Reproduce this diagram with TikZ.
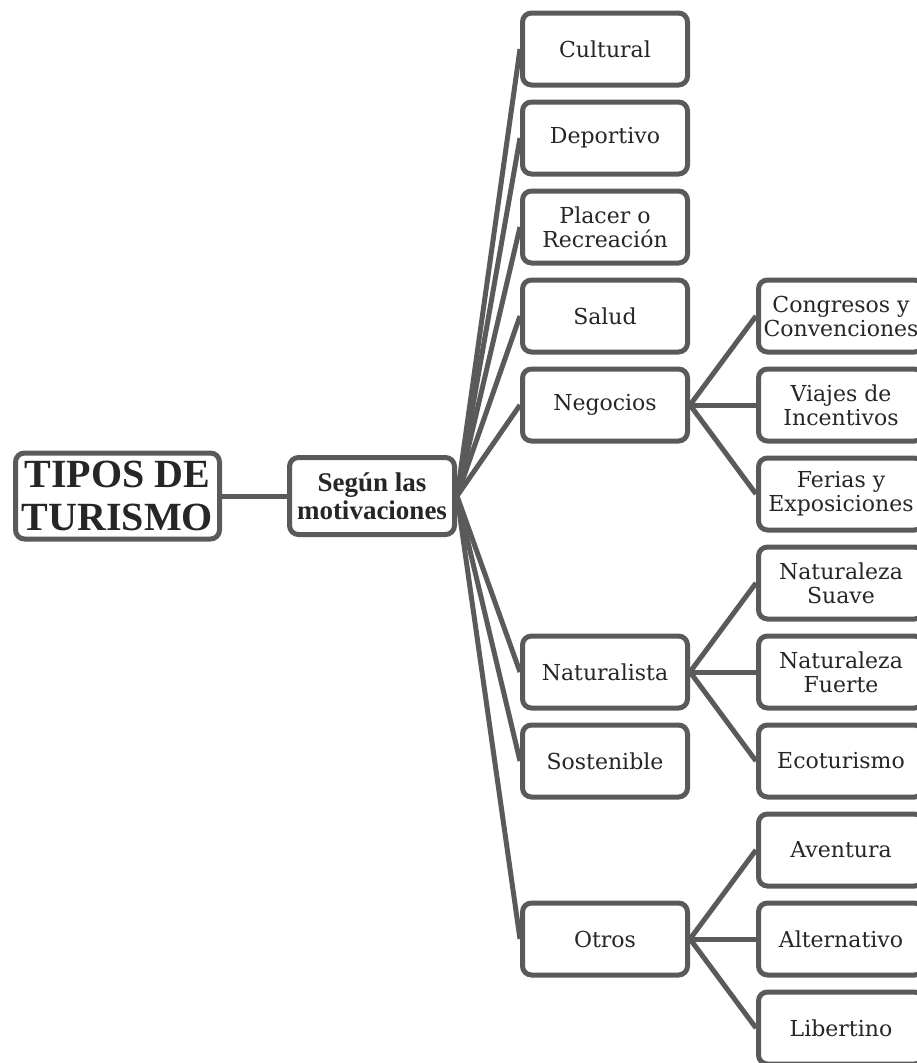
\documentclass[tikz,border=0pt]{standalone}
\usepackage{fontspec}
\setmainfont{DejaVu Serif}
\newfontfamily\titlefont{Liberation Serif}
\usetikzlibrary{positioning, backgrounds}
\definecolor{linegray}{HTML}{5A5A5A}

\begin{document}
\begin{tikzpicture}[
  x=1pt, y=-1pt,
  node distance=12pt and 66pt,
  font=\fontsize{22}{24}\selectfont,
  box/.style={draw=linegray, line width=5pt, rounded corners=9pt, fill=white, text=black!85, minimum width=165pt, minimum height=72pt, align=center, inner sep=2pt},
  root/.style={box, minimum width=204pt, minimum height=86pt, font=\titlefont\bfseries\fontsize{40}{43}\selectfont},
  group/.style={box, minimum height=77pt, font=\titlefont\bfseries\fontsize{27}{28}\selectfont},
  link/.style={draw=linegray, line width=5pt}
]
\useasboundingbox (0,0) rectangle (917,1063);
\clip (0,0) rectangle (917,1063);

% Nodes
\node[group] (segun) at (372,496) {Según las\\motivaciones};
\node[root, left=65pt of segun] (tipos) {TIPOS DE\\TURISMO};

\node[box] (cultural) at (605,49) {Cultural};
\node[box, below=of cultural] (deportivo) {Deportivo};
\node[box, below=of deportivo] (placer) {Placer o\\Recreación};
\node[box, below=of placer] (salud) {Salud};
\node[box, below=of salud] (negocios) {Negocios};

\node[box, right=of salud] (congresos) {Congresos y\\Convenciones};
\node[box, below=of congresos] (viajes) {Viajes de\\Incentivos};
\node[box, below=of viajes] (ferias) {Ferias y\\Exposiciones};
\node[box, below=of ferias] (suave) {Naturaleza\\Suave};
\node[box, below=of suave] (fuerte) {Naturaleza\\Fuerte};
\node[box, below=of fuerte] (ecoturismo) {Ecoturismo};
\node[box, below=of ecoturismo] (aventura) {Aventura};
\node[box, below=of aventura] (alternativo) {Alternativo};
\node[box, below=of alternativo] (libertino) {Libertino};

\node[box, left=of fuerte] (naturalista) {Naturalista};
\node[box, below=of naturalista] (sostenible) {Sostenible};
\node[box, left=of alternativo] (otros) {Otros};

% Connectors
\begin{scope}[on background layer]
\draw[link] (tipos.east) -- (segun.west);
\foreach \n in {cultural, deportivo, placer, salud, negocios, naturalista, sostenible, otros}
  \draw[link] (segun.east) -- (\n.west);
\foreach \n in {congresos, viajes, ferias}
  \draw[link] (negocios.east) -- (\n.west);
\foreach \n in {suave, fuerte, ecoturismo}
  \draw[link] (naturalista.east) -- (\n.west);
\foreach \n in {aventura, alternativo, libertino}
  \draw[link] (otros.east) -- (\n.west);
\end{scope}

\end{tikzpicture}
\end{document}
